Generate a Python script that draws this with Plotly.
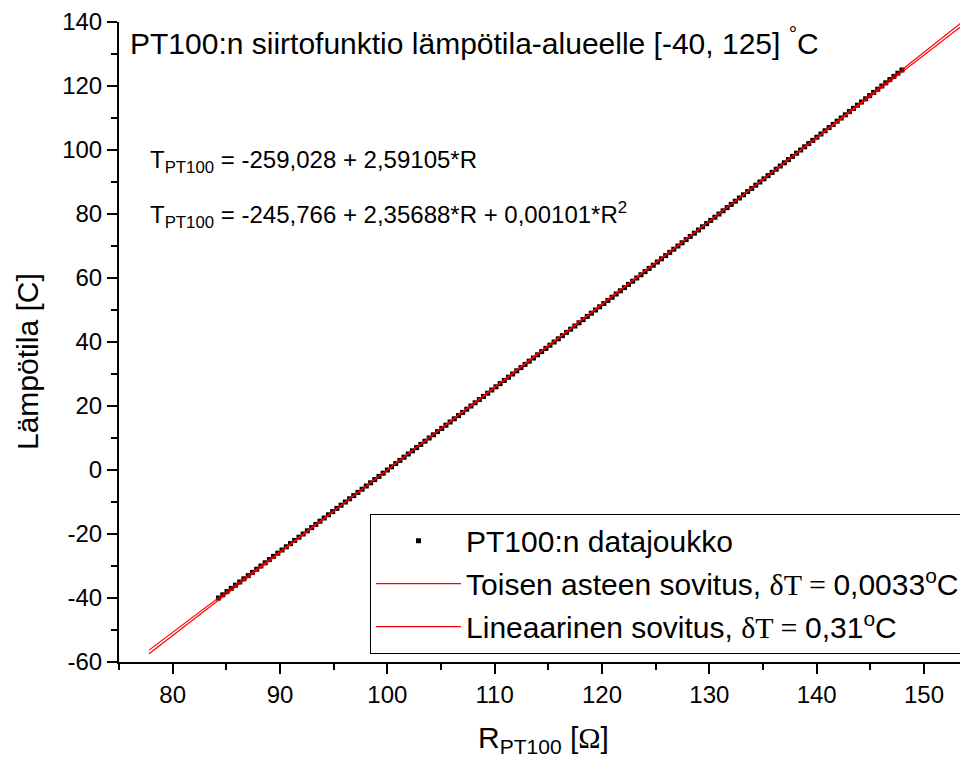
import plotly.graph_objects as go

# Measured PT100 data set: temperature [C] vs resistance [ohm]
temperature_c = [
    -40, -39, -38, -37, -36, -35, -34, -33, -32, -31,
    -30, -29, -28, -27, -26, -25, -24, -23, -22, -21,
    -20, -19, -18, -17, -16, -15, -14, -13, -12, -11,
    -10, -9, -8, -7, -6, -5, -4, -3, -2, -1,
    0, 1, 2, 3, 4, 5, 6, 7, 8, 9,
    10, 11, 12, 13, 14, 15, 16, 17, 18, 19,
    20, 21, 22, 23, 24, 25, 26, 27, 28, 29,
    30, 31, 32, 33, 34, 35, 36, 37, 38, 39,
    40, 41, 42, 43, 44, 45, 46, 47, 48, 49,
    50, 51, 52, 53, 54, 55, 56, 57, 58, 59,
    60, 61, 62, 63, 64, 65, 66, 67, 68, 69,
    70, 71, 72, 73, 74, 75, 76, 77, 78, 79,
    80, 81, 82, 83, 84, 85, 86, 87, 88, 89,
    90, 91, 92, 93, 94, 95, 96, 97, 98, 99,
    100, 101, 102, 103, 104, 105, 106, 107, 108, 109,
    110, 111, 112, 113, 114, 115, 116, 117, 118, 119,
    120, 121, 122, 123, 124, 125,
]
resistance_ohm = [
    84.27, 84.67, 85.06, 85.46, 85.85, 86.25, 86.64, 87.04, 87.43, 87.83,
    88.22, 88.62, 89.01, 89.40, 89.80, 90.19, 90.59, 90.98, 91.37, 91.77,
    92.16, 92.55, 92.95, 93.34, 93.73, 94.12, 94.52, 94.91, 95.30, 95.69,
    96.09, 96.48, 96.87, 97.26, 97.65, 98.04, 98.44, 98.83, 99.22, 99.61,
    100.00, 100.39, 100.78, 101.17, 101.56, 101.95, 102.34, 102.73, 103.12, 103.51,
    103.90, 104.29, 104.68, 105.07, 105.46, 105.85, 106.24, 106.63, 107.02, 107.40,
    107.79, 108.18, 108.57, 108.96, 109.35, 109.73, 110.12, 110.51, 110.90, 111.29,
    111.67, 112.06, 112.45, 112.83, 113.22, 113.61, 114.00, 114.38, 114.77, 115.15,
    115.54, 115.93, 116.31, 116.70, 117.08, 117.47, 117.86, 118.24, 118.63, 119.01,
    119.40, 119.78, 120.17, 120.55, 120.94, 121.32, 121.71, 122.09, 122.47, 122.86,
    123.24, 123.63, 124.01, 124.39, 124.78, 125.16, 125.54, 125.93, 126.31, 126.69,
    127.08, 127.46, 127.84, 128.22, 128.61, 128.99, 129.37, 129.75, 130.13, 130.52,
    130.90, 131.28, 131.66, 132.04, 132.42, 132.80, 133.18, 133.57, 133.95, 134.33,
    134.71, 135.09, 135.47, 135.85, 136.23, 136.61, 136.99, 137.37, 137.75, 138.13,
    138.51, 138.88, 139.26, 139.64, 140.02, 140.40, 140.78, 141.16, 141.54, 141.91,
    142.29, 142.67, 143.05, 143.43, 143.80, 144.18, 144.56, 144.94, 145.31, 145.69,
    146.07, 146.44, 146.82, 147.20, 147.57, 147.95,
]

# Fitted curves, sampled along R
quad_fit_r = [77.8, 90, 100, 110, 120, 130, 140, 155]
quad_fit_t = [-56.29, -25.47, 0.02, 25.71, 51.60, 77.70, 103.99, 143.82]
lin_fit_r = [77.8, 155]
lin_fit_t = [-57.44, 142.59]

x_tick_vals = [80, 90, 100, 110, 120, 130, 140, 150]
x_tick_text = ["80", "90", "100", "110", "120", "130", "140", "150"]
y_tick_vals = [-60, -40, -20, 0, 20, 40, 60, 80, 100, 120, 140]
y_tick_text = ["-60", "-40", "-20", "0", "20", "40", "60", "80", "100", "120", "140"]

SANS = "Liberation Sans, Arial, sans-serif"
SERIF = "'Liberation Serif', 'Times New Roman', serif"

fig = go.Figure()
fig.add_trace(go.Scatter(
    x=resistance_ohm, y=temperature_c, mode="markers",
    marker=dict(symbol="square", size=5, color="black", line=dict(width=0)),
    name="PT100:n datajoukko", legendgroup="a",
))
fig.add_trace(go.Scatter(
    x=quad_fit_r, y=quad_fit_t, mode="lines", line=dict(color="#ff0000", width=1.2),
    line_shape="spline", legendgroup="b",
    name=f'Toisen asteen sovitus, <span style="font-family:{SERIF}">δT = </span>0,0033<sup>o</sup>C',
))
fig.add_trace(go.Scatter(
    x=lin_fit_r, y=lin_fit_t, mode="lines", line=dict(color="#ff0000", width=1.2),
    legendgroup="c",
    name=f'Lineaarinen sovitus, <span style="font-family:{SERIF}">δT = </span>0,31<sup>o</sup>C',
))

axis_common = dict(
    showline=True, linecolor="black", linewidth=2, mirror=False,
    ticks="outside", ticklen=10, tickwidth=2, tickcolor="black",
    showgrid=False, zeroline=False,
    tickfont=dict(family=SANS, size=24, color="black"),
)

fig.update_layout(
    width=960, height=755,
    margin=dict(l=111, r=0, t=14, b=101),
    plot_bgcolor="white", paper_bgcolor="white",
    font=dict(family=SANS, color="black"),
    xaxis=dict(
        range=[75, 154.1], tickmode="array", tickvals=x_tick_vals, ticktext=x_tick_text,
        minor=dict(dtick=5, tick0=0, ticks="outside", ticklen=6, tickwidth=2, tickcolor="black"),
        title=dict(
            text=f'R<sub>PT100</sub> [<span style="font-family:{SERIF}">Ω</span>]',
            font=dict(family=SANS, size=30), standoff=20,
        ),
        **axis_common,
    ),
    yaxis=dict(
        range=[-60, 140], tickmode="array", tickvals=y_tick_vals, ticktext=y_tick_text,
        minor=dict(dtick=10, tick0=0, ticks="outside", ticklen=6, tickwidth=2, tickcolor="black"),
        **axis_common,
    ),
    legend=dict(
        x=0.9965, xanchor="right", y=0.013, yanchor="bottom",
        bgcolor="white", bordercolor="black", borderwidth=1,
        font=dict(family=SANS, size=30, color="black"),
        itemwidth=85, tracegroupgap=1,
    ),
    showlegend=True,
)

fig.add_annotation(
    text="PT100:n siirtofunktio lämpötila-alueelle [-40, 125] <sup>°</sup>C",
    xref="paper", yref="paper", x=0.0106, y=0.97, xanchor="left", yanchor="middle",
    showarrow=False, font=dict(family=SANS, size=30),
)
fig.add_annotation(
    text="T<sub>PT100</sub> = -259,028 + 2,59105*R",
    xref="paper", yref="paper", x=0.034, y=0.782, xanchor="left", yanchor="middle",
    showarrow=False, font=dict(family=SANS, size=24),
)
fig.add_annotation(
    text="T<sub>PT100</sub> = -245,766 + 2,35688*R + 0,00101*R<sup>2</sup>",
    xref="paper", yref="paper", x=0.034, y=0.698, xanchor="left", yanchor="middle",
    showarrow=False, font=dict(family=SANS, size=24),
)
fig.add_annotation(
    text="Lämpötila [C]", textangle=-90,
    xref="paper", yref="paper", x=-0.107, y=0.469, xanchor="center", yanchor="middle",
    showarrow=False, font=dict(family=SANS, size=30),
)

fig.write_html("out.html")
